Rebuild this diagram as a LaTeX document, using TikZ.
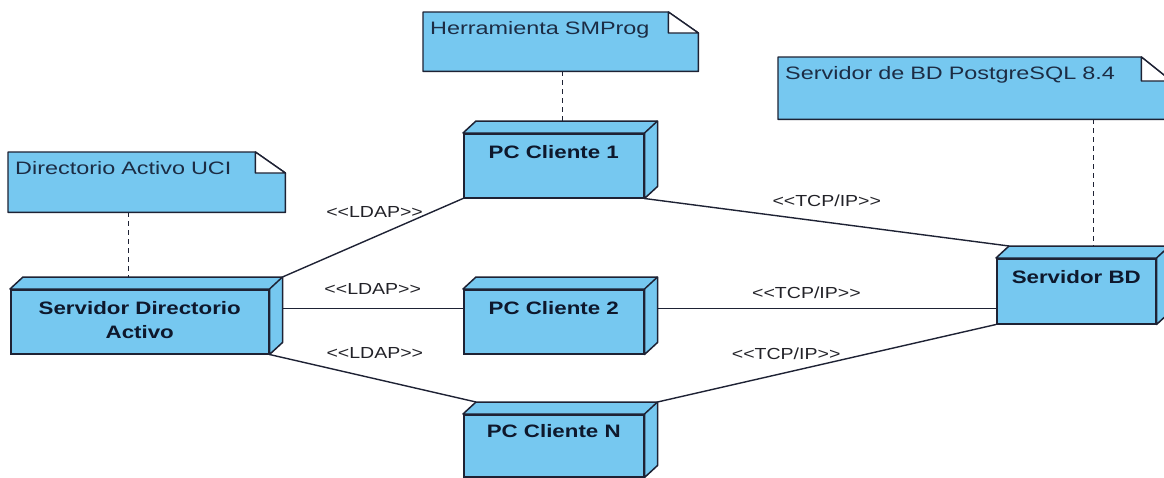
\documentclass[tikz,border=0pt]{standalone}
\usepackage{fontspec}
\setmainfont{Liberation Sans}
\newfontfamily\notefont[FakeStretch=1.3]{Liberation Sans}
\newfontfamily\boxfont[FakeStretch=1.24]{Liberation Sans}
\newfontfamily\tagfont[FakeStretch=1.22]{Liberation Sans}
\usetikzlibrary{backgrounds}

\definecolor{boxblue}{RGB}{118,200,240}
\definecolor{edgeline}{RGB}{30,34,52}
\definecolor{ink}{RGB}{14,24,44}
\definecolor{noteink}{RGB}{28,44,68}
\definecolor{tagink}{RGB}{34,34,40}

% stereotype guillemets written as two separate angle brackets
\newcommand\stereo[1]{<\kern0pt<#1>\kern0pt>}

\tikzset{
  device/.style={rectangle, fill=boxblue, draw=edgeline, line width=1.5pt,
    anchor=north west, inner sep=0pt, minimum width=180pt, align=center,
    text=ink, font=\boxfont\bfseries\fontsize{18}{24}\selectfont,
    text height=25pt, text depth=39pt},
  note/.style={rectangle, anchor=north west, inner xsep=7pt, inner ysep=0pt,
    align=left, text=noteink, font=\notefont\fontsize{18}{22}\selectfont,
    text height=22pt},
  wire/.style={draw=edgeline, line width=1.4pt},
  dashline/.style={draw=edgeline, line width=1.4pt, dash pattern=on 5pt off 4pt},
  tag/.style={inner sep=0pt, text=tagink, font=\tagfont\fontsize{16}{18}\selectfont},
  face/.style={fill=boxblue, draw=edgeline, line width=1.5pt, line join=round}
}

% top and right faces of a 3D deployment node
\newcommand\cubefaces[1]{%
  \filldraw[face] (#1.north west) -- ++(13pt,12pt) -- ([shift={(13pt,12pt)}]#1.north east)
    -- ([shift={(13pt,12pt)}]#1.south east) -- (#1.south east) -- (#1.north east) -- cycle;
  \draw[face, fill=none] (#1.north east) -- ++(13pt,12pt);
}

% note outline with a folded corner
\newcommand\notefold[3]{%
  \filldraw[fill=boxblue, draw=edgeline, line width=1.4pt, line join=round]
    (#1.south west) -- (#1.north west) -- ([xshift=-#2pt]#1.north east)
    -- ([yshift=-#3pt]#1.north east) -- (#1.south east) -- cycle;
  \filldraw[fill=white, draw=edgeline, line width=1.4pt, line join=round]
    ([xshift=-#2pt]#1.north east) -- ([shift={(-#2pt,-#3pt)}]#1.north east)
    -- ([yshift=-#3pt]#1.north east) -- cycle;
}

\begin{document}
\begin{tikzpicture}[x=1pt,y=-1pt]
\useasboundingbox (0,0) rectangle (1164,477);

% deployment nodes
\node[device, minimum width=258pt, text height=49pt, text depth=15pt] (sda) at (10,289) {Servidor Directorio\\Activo};
\node[device] (pc1) at (463,133) {PC Cliente 1};
\node[device] (pc2) at (463,289) {PC Cliente 2};
\node[device, text height=23pt] (pcn) at (463,414) {PC Cliente N};
\node[device, minimum width=159pt, text depth=40pt] (sbd) at (996,258) {Servidor BD};
\cubefaces{sda}
\cubefaces{pc1}
\cubefaces{pc2}
\cubefaces{pcn}
\cubefaces{sbd}

% notes
\node[note, text width=263pt, text depth=38pt] (n1) at (8,152) {Directorio Activo UCI};
\node[note, text width=261pt, text depth=37pt] (n2) at (423,12) {Herramienta SMProg};
\node[note, text width=379pt, text depth=40pt] (n3) at (778,57) {Servidor de BD PostgreSQL 8.4};

\coordinate (d1) at ([xshift=-18.5pt]n1.south);
\coordinate (d2) at ([xshift=1.5pt]n2.south);
\coordinate (d3) at ([xshift=118.5pt]n3.south);
\coordinate (sdatop) at ([yshift=12pt]sda.north);
\coordinate (pc1top) at ([yshift=12pt]pc1.north);
\coordinate (sbdtop) at ([yshift=12pt]sbd.north);

\begin{pgfonlayer}{background}
  \fill[white] (0,0) rectangle (1164,477);
  \notefold{n1}{30}{21}
  \notefold{n2}{30}{21}
  \notefold{n3}{30}{24}

  % note anchors
  \draw[dashline] (d1) -- (d1 |- sdatop);
  \draw[dashline] (d2) -- (d2 |- pc1top);
  \draw[dashline] (d3) -- (d3 |- sbdtop);

  % LDAP links
  \draw[wire] ([shift={(13pt,12pt)}]sda.north east) --
    node[tag, pos=0.51, yshift=25pt] {\stereo{LDAP}} (pc1.south west);
  \draw[wire] ([shift={(13pt,13pt)}]sda.east) --
    node[tag, midway, yshift=20pt] {\stereo{LDAP}} ([yshift=13pt]pc2.west);
  \draw[wire] (sda.south east) --
    node[tag, pos=0.51, yshift=26pt] {\stereo{LDAP}} ([shift={(13pt,12pt)}]pcn.north west);

  % TCP/IP links
  \draw[wire] (pc1.south east) --
    node[tag, pos=0.5, yshift=21pt] {\stereo{TCP/IP}} ([shift={(13pt,12pt)}]sbd.north west);
  \draw[wire] ([shift={(13pt,13pt)}]pc2.east) --
    node[tag, pos=0.44, yshift=16pt] {\stereo{TCP/IP}} ([yshift=-17.5pt]sbd.west);
  \draw[wire] ([shift={(13pt,12pt)}]pcn.north east) --
    node[tag, pos=0.38, yshift=19pt] {\stereo{TCP/IP}} (sbd.south west);
\end{pgfonlayer}
\end{tikzpicture}
\end{document}
